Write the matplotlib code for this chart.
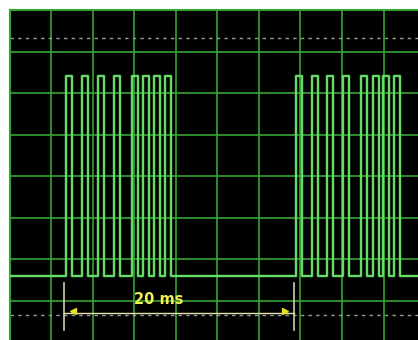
import numpy as np
import matplotlib
matplotlib.use('Agg')
import matplotlib.pyplot as plt

# Pulse edges, in ms (two bursts, 20 ms apart)
burst1_rise = [4.87, 6.26, 7.65, 9.04, 10.61, 11.57, 12.52, 13.52]
burst1_fall = [5.39, 6.78, 8.17, 9.57, 11.13, 12.09, 13.04, 14.04]
burst2_rise = [24.87, 26.26, 27.57, 28.96, 30.57, 31.57, 32.48, 33.43]
burst2_fall = [25.39, 26.78, 28.09, 29.48, 31.09, 32.09, 33.00, 33.96]
v_high = 4.8   # V
v_low = 0.0

cursor_levels = [5.73, -0.94]   # dashed horizontal cursors, V
marker_start = 4.70             # ms
marker_end = 24.70
marker_label = '20 ms'

t_end = 35.5
div_ms = 3.61

# build the square wave from the edges
t = [0.0]
v = [v_low]
for r, f in zip(burst1_rise + burst2_rise, burst1_fall + burst2_fall):
    t += [r, r, f, f]
    v += [v_low, v_high, v_high, v_low]
t.append(t_end)
v.append(v_low)

grid_col = '#34a434'
trace_col = '#6ade6a'

fig = plt.figure(figsize=(4.18, 3.40), dpi=100, facecolor='white')
ax = fig.add_axes([9.5 / 418, 0, 1 - 9.5 / 418, 330 / 340])
ax.set_facecolor('black')
ax.set_xlim(0, 35.48)
ax.set_ylim(-1.55, 6.4)

ax.set_xticks(np.arange(0, t_end, div_ms))
ax.set_yticks(np.arange(-0.6, 6.0, 1.0))
ax.tick_params(length=0, labelbottom=False, labelleft=False)
ax.grid(color=grid_col, lw=1.2, zorder=1)
ax.set_axisbelow(True)
for side in ['left', 'top']:
    ax.spines[side].set_color(grid_col)
    ax.spines[side].set_linewidth(1.5)
for side in ['right', 'bottom']:
    ax.spines[side].set_visible(False)

# cursors
for lvl in cursor_levels:
    ax.axhline(lvl, color='#9a9a9a', lw=1.0, dashes=(2.5, 3), zorder=2)

# trace (faint glow underneath)
ax.plot(t, v, color=trace_col, lw=2.6, alpha=0.25, zorder=3)
ax.plot(t, v, color=trace_col, lw=1.4, zorder=3)

# 20 ms measurement marker
mark_col = '#e6e2b4'
arrow_y = -0.89
for x in [marker_start, marker_end]:
    ax.plot([x, x], [-0.17, -1.30], color='#d0ccb0', lw=1.2, zorder=4)
ax.plot([marker_start, marker_end], [arrow_y, arrow_y], color=mark_col, lw=1.0, zorder=4)
ax.plot(marker_start + 0.8, arrow_y + 0.03, marker='<', color='#e8e020', ms=5, zorder=5)
ax.plot(marker_end - 0.8, arrow_y + 0.03, marker='>', color='#e8e020', ms=5, zorder=5)
ax.text(13.0, -0.57, marker_label, color='#f0ee50', fontsize=10.5, fontweight='bold',
        ha='center', va='center', zorder=5)

fig.savefig('out.png', dpi=100, facecolor='white')
